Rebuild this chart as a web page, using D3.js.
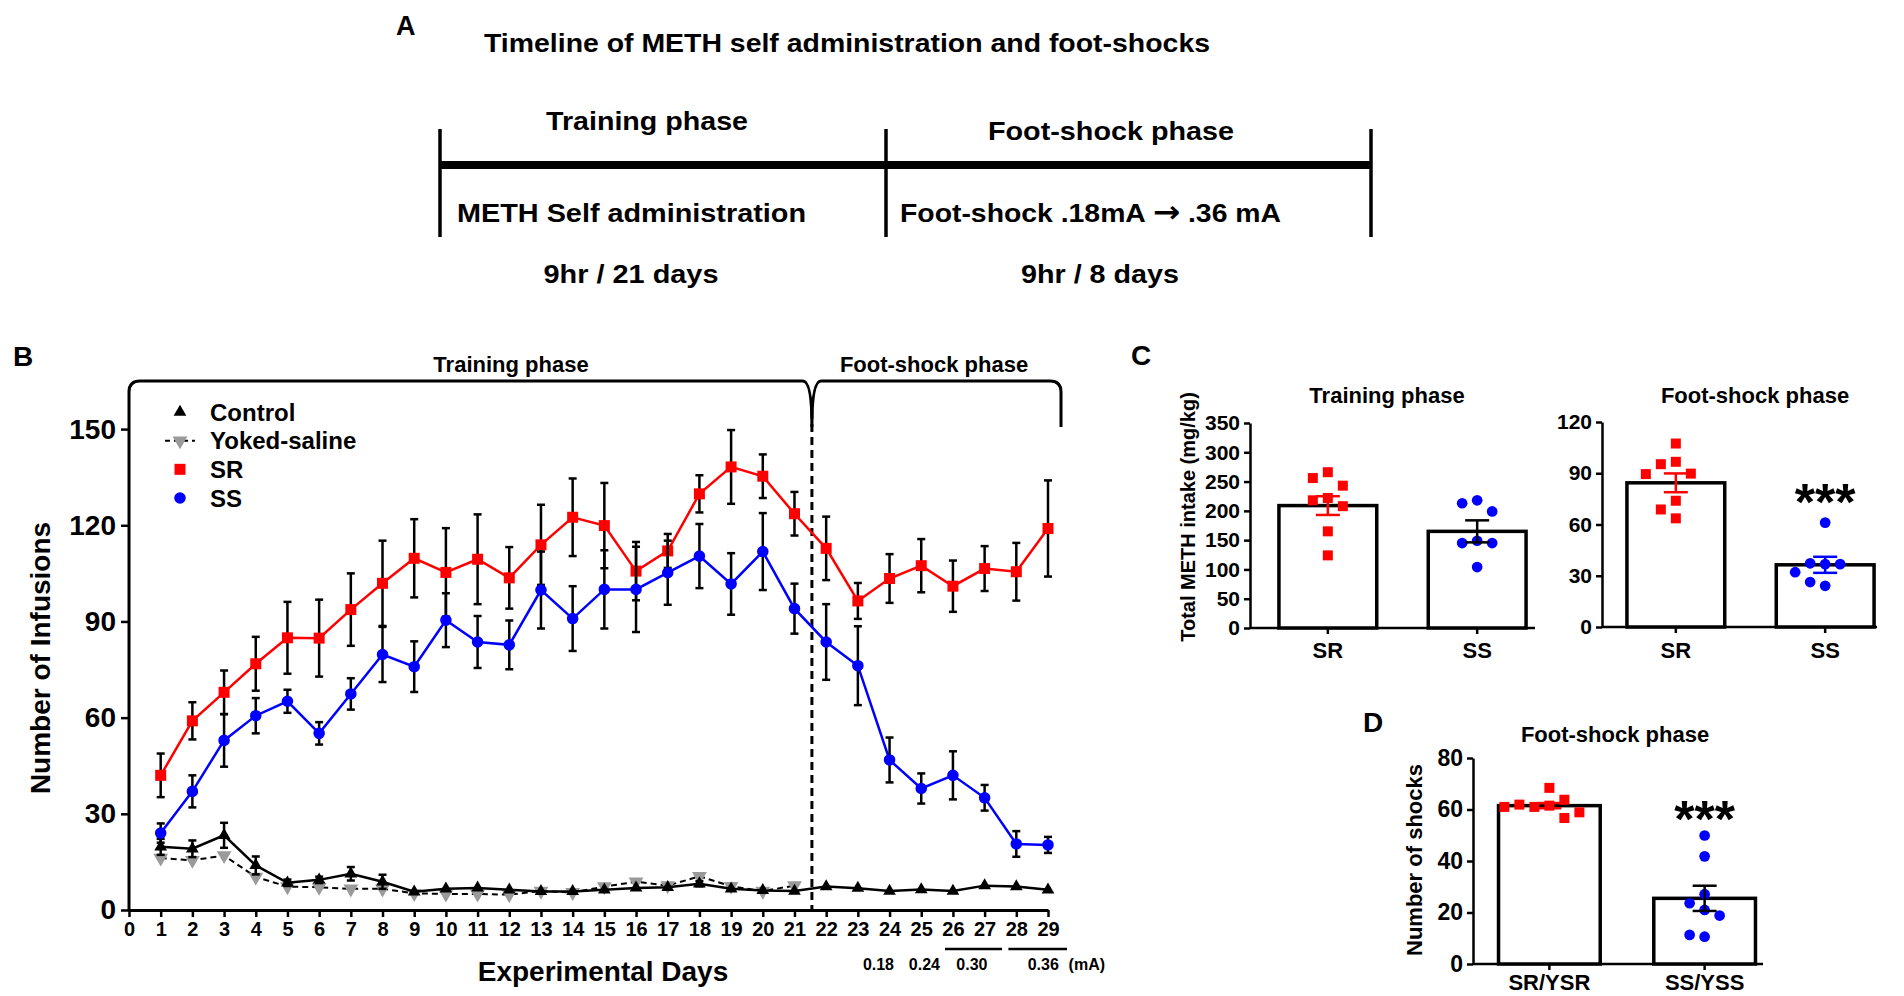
<!DOCTYPE html>
<html>
<head>
<meta charset="utf-8">
<script src="https://cdn.jsdelivr.net/npm/d3@7"></script>
<style>
  body { margin: 0; background: #fff; }
  svg { display: block; font-family: "Liberation Sans", Arial, sans-serif; font-weight: bold; }
</style>
</head>
<body>
<svg id="fig" width="1904" height="996"></svg>
<script>
// ---------- data ----------
var days = [1, 2, 3, 4, 5, 6, 7, 8, 9, 10, 11, 12, 13, 14, 15, 16, 17, 18, 19, 20, 21, 22, 23, 24, 25, 26, 27, 28, 29];
var dayTicks = [0].concat(days);
var infusionTicks = [0, 30, 60, 90, 120, 150];

var srMean = [42.0, 59.0, 67.9, 76.8, 84.9, 84.8, 93.7, 101.9, 109.7, 105.3, 109.4, 103.6, 113.9, 122.5, 119.9, 105.7, 112.0, 129.8, 138.2, 135.3, 123.6, 112.8, 96.4, 103.4, 107.4, 101.0, 106.5, 105.5, 119.0];
var srErr = [6.8, 5.8, 6.8, 8.4, 11.2, 12.0, 11.3, 13.3, 12.2, 13.8, 14.0, 9.6, 12.5, 12.1, 13.3, 9.1, 5.3, 5.8, 11.5, 6.8, 6.8, 9.9, 5.6, 7.6, 8.3, 8.0, 7.0, 9.0, 15.0];
var ssMean = [24.0, 37.0, 52.9, 60.6, 65.1, 55.1, 67.4, 79.7, 75.9, 90.4, 83.6, 82.7, 99.8, 90.9, 100.0, 100.0, 105.2, 110.4, 101.7, 111.8, 94.0, 83.6, 76.2, 46.8, 37.9, 42.0, 35.0, 20.6, 20.3];
var ssErr = [3.0, 5.0, 8.2, 5.5, 3.6, 3.5, 4.9, 8.6, 7.9, 8.4, 8.1, 7.6, 12.0, 10.1, 12.2, 13.3, 10.0, 10.0, 9.6, 12.0, 7.8, 11.8, 12.3, 7.0, 4.7, 7.5, 4.0, 4.0, 2.5];
var ctlMean = [19.7, 19.1, 23.3, 13.9, 8.5, 9.4, 11.3, 8.8, 5.7, 6.6, 6.9, 6.3, 5.8, 5.8, 6.3, 6.9, 7.1, 8.2, 6.6, 6.1, 5.9, 7.3, 6.8, 5.9, 6.4, 5.9, 7.6, 7.3, 6.3];
var ctlErr = [2.5, 2.6, 3.9, 2.8, 1.0, 1.0, 2.1, 2.2, 0.6, 0.6, 0.6, 0.6, 0.5, 0.5, 0.6, 0.6, 0.6, 0.8, 0.6, 0.6, 0.6, 0.6, 0.5, 0.5, 0.5, 0.5, 0.6, 0.6, 0.5];
var yokedDays = [1, 2, 3, 4, 5, 6, 7, 8, 9, 10, 11, 12, 13, 14, 15, 16, 17, 18, 19, 20, 21];
var yokedMean = [16.2, 15.5, 17.0, 10.3, 7.3, 7.1, 6.6, 6.6, 5.2, 5.0, 5.0, 4.8, 5.9, 5.5, 7.3, 8.8, 7.6, 10.5, 7.4, 5.9, 7.6];
var shockLevels = ["0.18", "0.24", "0.30", "0.36"];

// panel C
var groupsC = ["SR", "SS"];
var trainSR = [266, 256, 243, 222, 218, 208, 165, 124];
var trainSS = [218, 213, 199, 149, 145, 145, 104];
var trainMean = [209, 165];
var trainSem = [16, 18.8];
var trainTicks = [0, 50, 100, 150, 200, 250, 300, 350];
var shockPhaseSR = [107.4, 96.7, 95.3, 89.8, 89.5, 73.9, 68.8, 63.6];
var shockPhaseSS = [61.1, 36.8, 37.3, 36.8, 32.1, 24.1, 26.3];
var shockPhaseMean = [84.4, 36.4];
var shockPhaseSem = [5.5, 4.7];
var shockPhaseTicks = [0, 30, 60, 90, 120];

// panel D
var groupsD = ["SR/YSR", "SS/YSS"];
var shocksSR = [61.5, 61.0, 56.7, 61.9, 68.4, 63.8, 58.9, 61.0];
var shocksSS = [49.9, 41.8, 27.1, 23.6, 21.0, 18.8, 10.6, 11.3];
var shocksMean = [61.5, 25.5];
var shocksSem = [1.0, 4.9];
var shocksTicks = [0, 20, 40, 60, 80];

var RED = "#ff0000", BLUE = "#0000ff", GREY = "#9a9a9a";

var svg = d3.select("#fig");
svg.append("rect").attr("width", 1904).attr("height", 996).attr("fill", "#fff");

function label(g, txt, x, y, size, anchor) {
    return g.append("text")
        .attr("x", x).attr("y", y)
        .attr("font-size", size)
        .attr("text-anchor", anchor || "start")
        .text(txt);
}

// ---------- panel A : timeline ----------
var gA = svg.append("g");
label(gA, "A", 396, 35, 27);
label(gA, "Timeline of METH self administration and foot-shocks", 847, 52, 26, "middle")
    .attr("textLength", 726).attr("lengthAdjust", "spacingAndGlyphs");

var tl = d3.scaleLinear().domain([0, 1, 2]).range([440, 886, 1371]);
gA.append("line").attr("x1", tl(0)).attr("x2", tl(2)).attr("y1", 165).attr("y2", 165)
    .attr("stroke", "#000").attr("stroke-width", 8);
[0, 1, 2].forEach(function (i) {
    gA.append("line").attr("x1", tl(i)).attr("x2", tl(i)).attr("y1", 129).attr("y2", 237)
        .attr("stroke", "#000").attr("stroke-width", 3.5);
});
label(gA, "Training phase", 647, 130, 26, "middle").attr("textLength", 202).attr("lengthAdjust", "spacingAndGlyphs");
label(gA, "Foot-shock phase", 1111, 140, 26, "middle").attr("textLength", 246).attr("lengthAdjust", "spacingAndGlyphs");
label(gA, "METH Self administration", 457, 222, 26).attr("textLength", 349).attr("lengthAdjust", "spacingAndGlyphs");

// the arrow in the reference is a heavy glyph, so it gets its own font
var shockTxt = gA.append("text").attr("x", 900).attr("y", 222).attr("font-size", 26)
    .attr("textLength", 381).attr("lengthAdjust", "spacingAndGlyphs");
shockTxt.append("tspan").text("Foot-shock .18mA ");
shockTxt.append("tspan").attr("font-family", "DejaVu Sans").attr("font-size", 30).text("\u2192");
shockTxt.append("tspan").text(" .36 mA");

label(gA, "9hr / 21 days", 631, 283, 26, "middle").attr("textLength", 175).attr("lengthAdjust", "spacingAndGlyphs");
label(gA, "9hr / 8 days", 1100, 283, 26, "middle").attr("textLength", 158).attr("lengthAdjust", "spacingAndGlyphs");

// ---------- panel B : infusions per day ----------
var gB = svg.append("g");
var xB = d3.scaleLinear().domain([0, 29]).range([129, 1048]);
var yB = d3.scaleLinear().domain([0, 165]).range([910, 381]);
var splitDay = 21.55;

label(gB, "B", 13, 366, 28);

// y axis
var yAxisB = gB.append("g")
    .attr("transform", "translate(" + xB(0) + ",0)")
    .call(d3.axisLeft(yB).tickValues(infusionTicks).tickSize(8).tickPadding(5));
yAxisB.select(".domain").remove();
yAxisB.selectAll("line").attr("stroke-width", 2.5);
yAxisB.selectAll("text").attr("font-size", 28).attr("font-family", null).attr("fill", "#000");

// x axis
var xAxisB = gB.append("g")
    .attr("transform", "translate(0," + yB(0) + ")")
    .call(d3.axisBottom(xB).tickValues(dayTicks).tickSize(7).tickSizeOuter(0).tickPadding(5));
xAxisB.select(".domain").attr("stroke-width", 3);
xAxisB.selectAll("line").attr("stroke-width", 2.5);
xAxisB.selectAll("text").attr("font-size", 20).attr("font-family", null).attr("fill", "#000");

// y axis line continues up into the phase bracket
var x0 = xB(0), xs = xB(splitDay), xe = 1061, yt = yB.range()[1];
gB.append("path")
    .attr("d", "M" + x0 + "," + yB(0) + " L" + x0 + "," + (yt + 11) +
        " Q" + x0 + "," + yt + " " + (x0 + 11) + "," + yt +
        " L" + (xs - 9) + "," + yt +
        " Q" + xs + "," + yt + " " + xs + "," + (yt + 46) +
        " Q" + xs + "," + yt + " " + (xs + 9) + "," + yt +
        " L" + (xe - 11) + "," + yt +
        " Q" + xe + "," + yt + " " + xe + "," + (yt + 11) +
        " L" + xe + "," + (yt + 46))
    .attr("fill", "none").attr("stroke", "#000").attr("stroke-width", 3);

label(gB, "Training phase", 511, 372, 22, "middle");
label(gB, "Foot-shock phase", 934, 372, 22, "middle");

gB.append("line")
    .attr("x1", xs).attr("x2", xs).attr("y1", yt + 30).attr("y2", yB(0))
    .attr("stroke", "#000").attr("stroke-width", 3).attr("stroke-dasharray", "8,5");

// axis titles
gB.append("text")
    .attr("transform", "translate(50,658) rotate(-90)")
    .attr("text-anchor", "middle").attr("font-size", 28)
    .text("Number of Infusions");
label(gB, "Experimental Days", 603, 981, 28, "middle");

// shock intensity annotation
[[23.65, shockLevels[0]], [25.1, shockLevels[1]], [26.6, shockLevels[2]], [28.85, shockLevels[3]]].forEach(function (d) {
    label(gB, d[1], xB(d[0]), 970, 16, "middle");
});
label(gB, "(mA)", xB(29.65), 970, 16);
[[25.75, 27.55], [27.75, 29.6]].forEach(function (d) {
    gB.append("line").attr("x1", xB(d[0])).attr("x2", xB(d[1])).attr("y1", 949).attr("y2", 949)
        .attr("stroke", "#000").attr("stroke-width", 2.5);
});

function drawSeries(xs_, mean, err, o) {
    var pts = xs_.map(function (d, i) { return [d, mean[i], err ? err[i] : 0]; });
    var g = gB.append("g");
    g.append("path")
        .datum(pts)
        .attr("d", d3.line().x(function (d) { return xB(d[0]); }).y(function (d) { return yB(d[1]); }))
        .attr("fill", "none").attr("stroke", o.line).attr("stroke-width", o.width)
        .attr("stroke-dasharray", o.dash || null);
    if (err) {
        var eb = g.selectAll(".eb").data(pts.filter(function (d) { return d[2] > 0.7; })).enter().append("g");
        eb.append("line")
            .attr("x1", function (d) { return xB(d[0]); }).attr("x2", function (d) { return xB(d[0]); })
            .attr("y1", function (d) { return yB(d[1] - d[2]); }).attr("y2", function (d) { return yB(d[1] + d[2]); })
            .attr("stroke", "#000").attr("stroke-width", 2.5);
        [1, -1].forEach(function (s) {
            eb.append("line")
                .attr("x1", function (d) { return xB(d[0]) - 4; }).attr("x2", function (d) { return xB(d[0]) + 4; })
                .attr("y1", function (d) { return yB(d[1] + s * d[2]); }).attr("y2", function (d) { return yB(d[1] + s * d[2]); })
                .attr("stroke", "#000").attr("stroke-width", 2.5);
        });
    }
    g.selectAll(".mk").data(pts).enter().append("path")
        .attr("d", d3.symbol().type(o.symbol).size(o.size))
        .attr("transform", function (d) {
            return "translate(" + xB(d[0]) + "," + yB(d[1]) + ")" + (o.flip ? " rotate(180)" : "");
        })
        .attr("fill", o.fill);
}

drawSeries(yokedDays, yokedMean, null, { line: "#000", width: 2, dash: "6,4", symbol: d3.symbolTriangle, size: 95, fill: GREY, flip: true });
drawSeries(days, ctlMean, ctlErr, { line: "#000", width: 2.5, symbol: d3.symbolTriangle, size: 70, fill: "#000" });
drawSeries(days, srMean, srErr, { line: RED, width: 2.5, symbol: d3.symbolSquare, size: 121, fill: RED });
drawSeries(days, ssMean, ssErr, { line: BLUE, width: 2.5, symbol: d3.symbolCircle, size: 105, fill: BLUE });

// legend
var legend = [
    { name: "Control", symbol: d3.symbolTriangle, fill: "#000", size: 70 },
    { name: "Yoked-saline", symbol: d3.symbolTriangle, fill: GREY, size: 95, flip: true, dash: true },
    { name: "SR", symbol: d3.symbolSquare, fill: RED, size: 121 },
    { name: "SS", symbol: d3.symbolCircle, fill: BLUE, size: 105 }
];
var legY = d3.scalePoint().domain(legend.map(function (d) { return d.name; })).range([412, 498]);
legend.forEach(function (d) {
    var cy = legY(d.name);
    if (d.dash) {
        gB.append("line").attr("x1", 165).attr("x2", 195).attr("y1", cy).attr("y2", cy)
            .attr("stroke", "#000").attr("stroke-width", 2).attr("stroke-dasharray", "5,4");
    }
    gB.append("path").attr("d", d3.symbol().type(d.symbol).size(d.size)())
        .attr("transform", "translate(180," + cy + ")" + (d.flip ? " rotate(180)" : ""))
        .attr("fill", d.fill);
    label(gB, d.name, 210, cy + 8.5, 24);
});

// ---------- bar + dot panels (C, D) ----------
function swarm(vals, y, step) {
    var placed = [];
    return vals.map(function (v) {
        var py = y(v), off = 0;
        var cand = [0];
        for (var i = 1; i < 6; i++) cand.push(-i * step, i * step);
        for (var k = 0; k < cand.length; k++) {
            var c = cand[k];
            var ok = placed.every(function (p) { return Math.hypot(p.x - c, p.y - py) >= step * 0.9; });
            if (ok) { off = c; break; }
        }
        placed.push({ x: off, y: py });
        return off;
    });
}

function barPanel(cfg) {
    var g = svg.append("g");
    var x = d3.scaleBand().domain(cfg.groups).range(cfg.band).paddingInner(0.345).paddingOuter(0.1);
    var y = d3.scaleLinear().domain([0, cfg.max]).range(cfg.yRange);

    var ya = g.append("g").attr("transform", "translate(" + cfg.axisX + ",0)")
        .call(d3.axisLeft(y).tickValues(cfg.ticks).tickSize(6).tickSizeOuter(0).tickPadding(4));
    ya.select(".domain").attr("stroke-width", 2.5);
    ya.selectAll("line").attr("stroke-width", 2.5);
    ya.selectAll("text").attr("font-size", cfg.tickFont).attr("font-family", null).attr("fill", "#000");

    g.append("line").attr("x1", cfg.axisX).attr("x2", cfg.axisEnd).attr("y1", y(0)).attr("y2", y(0))
        .attr("stroke", "#000").attr("stroke-width", 2.5);
    cfg.groups.forEach(function (grp) {
        var cx = x(grp) + x.bandwidth() / 2;
        g.append("line").attr("x1", cx).attr("x2", cx).attr("y1", y(0)).attr("y2", y(0) + 6)
            .attr("stroke", "#000").attr("stroke-width", 2.5);
        label(g, grp, cx, cfg.labelY, cfg.labelFont, "middle");
    });

    g.selectAll(".bar").data(cfg.means).enter().append("rect")
        .attr("x", function (d, i) { return x(cfg.groups[i]); })
        .attr("width", x.bandwidth())
        .attr("y", function (d) { return y(d); })
        .attr("height", function (d) { return y(0) - y(d); })
        .attr("fill", "#fff").attr("stroke", "#000").attr("stroke-width", 3.5);

    [cfg.ptsA, cfg.ptsB].forEach(function (vals, gi) {
        var cx = x(cfg.groups[gi]) + x.bandwidth() / 2;
        var offs = swarm(vals, y, 15);
        g.selectAll(".pt" + gi).data(vals).enter().append("path")
            .attr("d", d3.symbol().type(gi === 0 ? d3.symbolSquare : d3.symbolCircle).size(gi === 0 ? 100 : 90))
            .attr("transform", function (d, i) { return "translate(" + (cx + offs[i]) + "," + y(d) + ")"; })
            .attr("fill", gi === 0 ? RED : BLUE);
    });

    cfg.means.forEach(function (m, i) {
        var cx = x(cfg.groups[i]) + x.bandwidth() / 2, s = cfg.sems[i], col = cfg.semColors[i];
        g.append("line").attr("x1", cx).attr("x2", cx).attr("y1", y(m - s)).attr("y2", y(m + s))
            .attr("stroke", col).attr("stroke-width", 2.5);
        [m - s, m + s].forEach(function (v) {
            g.append("line").attr("x1", cx - 12).attr("x2", cx + 12).attr("y1", y(v)).attr("y2", y(v))
                .attr("stroke", col).attr("stroke-width", 2.5);
        });
    });

    if (cfg.title) label(g, cfg.title[0], cfg.title[1], cfg.title[2], 22, "middle");
    if (cfg.stars) {
        var sx = x(cfg.groups[1]) + x.bandwidth() / 2;
        label(g, "***", sx, cfg.stars, 52, "middle");
    }
    return g;
}

label(svg, "C", 1131, 365, 28);
svg.append("text")
    .attr("transform", "translate(1195,517) rotate(-90)")
    .attr("text-anchor", "middle").attr("font-size", 20)
    .text("Total METH intake (mg/kg)");

barPanel({
    groups: groupsC, ptsA: trainSR, ptsB: trainSS, means: trainMean, sems: trainSem,
    max: 350, ticks: trainTicks, yRange: [628, 423], axisX: 1250, axisEnd: 1535,
    band: [1264, 1541], tickFont: 21, labelY: 658, labelFont: 22,
    semColors: [RED, "#000"], title: ["Training phase", 1387, 403]
});
barPanel({
    groups: groupsC, ptsA: shockPhaseSR, ptsB: shockPhaseSS, means: shockPhaseMean, sems: shockPhaseSem,
    max: 120, ticks: shockPhaseTicks, yRange: [627, 422], axisX: 1602, axisEnd: 1877,
    band: [1612, 1889], tickFont: 21, labelY: 658, labelFont: 22,
    semColors: [RED, BLUE], title: ["Foot-shock phase", 1755, 403], stars: 520
});

label(svg, "D", 1363, 732, 28);
svg.append("text")
    .attr("transform", "translate(1422,860) rotate(-90)")
    .attr("text-anchor", "middle").attr("font-size", 22)
    .text("Number of shocks");
barPanel({
    groups: groupsD, ptsA: shocksSR, ptsB: shocksSS, means: shocksMean, sems: shocksSem,
    max: 80, ticks: shocksTicks, yRange: [964, 758], axisX: 1473, axisEnd: 1763,
    band: [1483, 1771], tickFont: 23, labelY: 990, labelFont: 22,
    semColors: [RED, "#000"], title: ["Foot-shock phase", 1615, 742], stars: 837
});
</script>
</body>
</html>
